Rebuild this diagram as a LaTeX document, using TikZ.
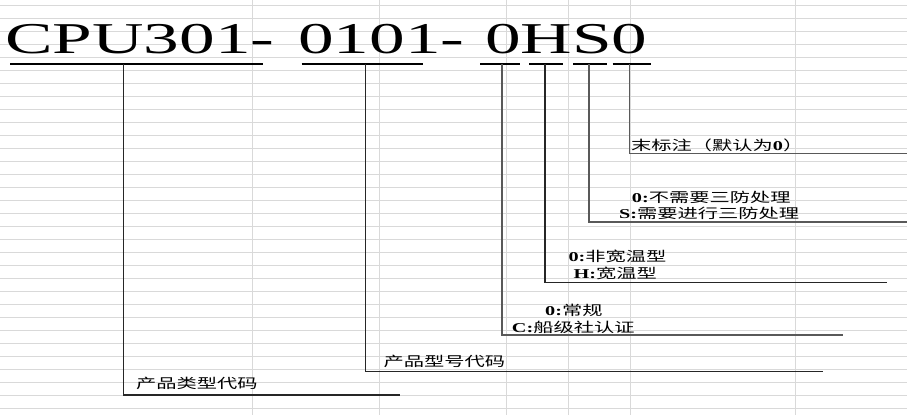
\documentclass[tikz,border=0pt]{standalone}
\usepackage{fontspec}
\setmainfont{Liberation Serif}
\newfontfamily\titlefont[FakeStretch=1.62]{Liberation Serif}
\newfontfamily\cjk[FakeStretch=1.5]{Noto Sans CJK SC}
\newfontfamily\latn[FakeStretch=1.5]{Liberation Serif}
\begin{document}
\begin{tikzpicture}[x=1pt,y=-1pt,
  gridline/.style={draw=black!15,line width=0.9pt},
  uline/.style={draw=black,line width=2pt},
  conn/.style={draw=black!85,line width=1.2pt},
  connlite/.style={draw=black!65,line width=1.6pt},
  title/.style={anchor=base west,inner sep=0pt,font=\titlefont\fontsize{44}{44}\selectfont},
  lbl/.style={anchor=base west,inner sep=0pt,font=\cjk\fontsize{13.5}{13.5}\selectfont}]
\useasboundingbox (0,0) rectangle (907,415);
% spreadsheet grid
\foreach \k in {0,...,31} \draw[gridline] (0,{5.3+13*\k}) -- (907,{5.3+13*\k});
\foreach \x in {252.5,379.3,506.7,568.5,630.2,795.5} \draw[gridline] (\x,0) -- (\x,415);
% title
\node[title] (t1) at (5,53.3) {CPU301-};
\node[title] (t2) at (298,53.3) {0101-};
\node[title] (t3) at (485,53.3) {0HS0};
% underlines
\coordinate (a1) at (10,64);    \coordinate (b1) at (263,64);
\coordinate (a2) at (301.7,64); \coordinate (b2) at (423.3,64);
\coordinate (a3) at (480,64);   \coordinate (b3) at (520,64);
\coordinate (a4) at (529.3,64); \coordinate (b4) at (563.3,64);
\coordinate (a5) at (573.3,64); \coordinate (b5) at (606.7,64);
\coordinate (a6) at (612.7,64); \coordinate (b6) at (650.7,64);
\foreach \i in {1,...,6} \draw[uline] (a\i) -- (b\i);
% tap points
\coordinate (p1) at (123.3,64); \coordinate (e1) at (400,395);
\coordinate (p2) at (365.7,64); \coordinate (e2) at (822.7,371.3);
\coordinate (p3) at (501.7,64); \coordinate (e3) at (843.3,335);
\coordinate (p4) at (545,64);   \coordinate (e4) at (886.7,282.7);
\coordinate (p5) at (589,64);   \coordinate (e5) at (907,221.7);
\coordinate (p6) at (629.3,64); \coordinate (e6) at (907,153.3);
\draw[conn] (p1) |- (e1);
\draw[conn] (p2) |- (e2);
\draw[connlite] (p3) |- (e3);
\draw[conn] (p4) |- (e4);
\draw[connlite] (p5) |- (e5);
\draw[connlite] (p6) |- (e6);
% labels
\node[lbl] (l6) at (631,150) {末标注（默认为{\latn\bfseries 0}）};
\node[lbl] (l5a) at (631.7,202) {{\latn\bfseries 0:}不需要三防处理};
\node[lbl] (l5b) at (619,218) {{\latn\bfseries S:}需要进行三防处理};
\node[lbl] (l4a) at (568.3,261.5) {{\latn\bfseries 0:}非宽温型};
\node[lbl] (l4b) at (573.3,278) {{\latn\bfseries H:}宽温型};
\node[lbl] (l3a) at (545,315) {{\latn\bfseries 0:}常规};
\node[lbl] (l3b) at (511.7,332) {{\latn\bfseries C:}船级社认证};
\node[lbl] (l2) at (383.3,366.5) {产品型号代码};
\node[lbl] (l1) at (136,388) {产品类型代码};
\end{tikzpicture}
\end{document}
